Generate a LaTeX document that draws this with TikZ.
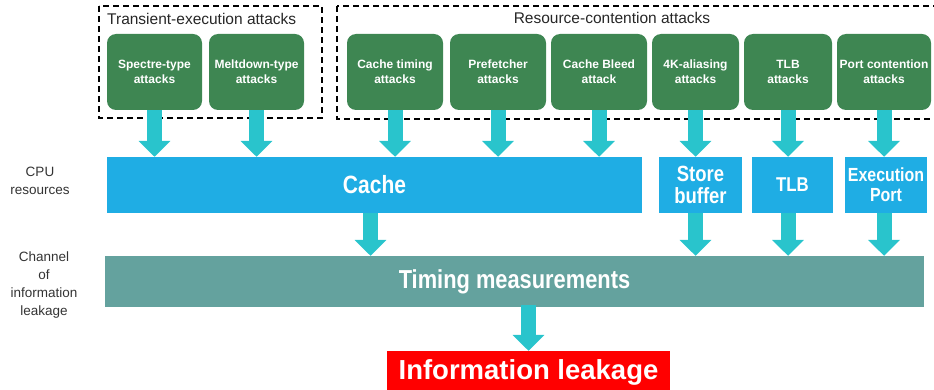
\documentclass[tikz,border=0pt]{standalone}
\usepackage{fontspec}
\setmainfont{Liberation Sans}
\newfontfamily\narrowfont[FakeStretch=0.84]{Liberation Sans}
\usetikzlibrary{arrows.meta}

\definecolor{attackgreen}{RGB}{62,134,82}
\definecolor{cpublue}{RGB}{31,173,228}
\definecolor{channelteal}{RGB}{100,162,158}
\definecolor{flowcyan}{RGB}{41,196,204}

\begin{document}
\begin{tikzpicture}[x=1pt,y=-1pt,
    attack/.style={fill=attackgreen, rounded corners=9pt, text=white, align=center,
      font=\bfseries\fontsize{12}{15}\selectfont, inner sep=0pt,
      minimum width=#1, minimum height=76pt},
    resource/.style={fill=cpublue, text=white, align=center, inner sep=0pt,
      minimum width=#1, minimum height=56pt},
    flow/.style={draw=flowcyan, line width=15pt, -{Triangle[width=31pt,length=16pt]}},
    groupbox/.style={draw=black, line width=1.3pt, dash pattern=on 6pt off 4pt},
    grouplabel/.style={font=\fontsize{15.5}{18}\selectfont, text=black!85, inner sep=0pt},
    sidelabel/.style={font=\fontsize{13.5}{18}\selectfont, text=black!80, align=center, inner sep=0pt}]
  \useasboundingbox (0,0) rectangle (934,390);

  % attack groups
  \draw[groupbox] (99,6) rectangle (322,118);
  \draw[groupbox] (337,6) rectangle (945,119);
  \node[grouplabel, anchor=west] (transient) at (107,19) {Transient-execution attacks};
  \node[grouplabel] (contention) at (612,18) {Resource-contention attacks};

  % attacks
  \node[attack=95pt] (spectre)   at (154.5,72) {Spectre-type\\attacks};
  \node[attack=95pt] (meltdown)  at (256.5,72) {Meltdown-type\\attacks};
  \node[attack=96pt] (timingatk) at (395,72)   {Cache timing\\attacks};
  \node[attack=96pt] (prefetch)  at (498,72)   {Prefetcher\\attacks};
  \node[attack=96pt] (bleed)     at (599,72)   {Cache Bleed\\attack};
  \node[attack=87pt] (aliasing)  at (695.5,72) {4K-aliasing\\attacks};
  \node[attack=88pt] (tlbatk)    at (788,72)   {TLB\\attacks};
  \node[attack=94pt] (portatk)   at (884,72)   {Port contention\\attacks};

  % cpu resources
  \node[resource=535pt, font=\narrowfont\bfseries\fontsize{25}{22}\selectfont] (cache) at (374.5,185) {Cache};
  \node[resource=83pt, font=\narrowfont\bfseries\fontsize{22}{22}\selectfont] (store) at (700.5,185) {Store\\buffer};
  \node[resource=81pt, font=\narrowfont\bfseries\fontsize{20}{20}\selectfont] (tlb) at (792.5,185) {TLB};
  \node[resource=82pt, font=\narrowfont\bfseries\fontsize{19}{20}\selectfont] (exec) at (886,185) {Execution\\Port};

  % channel and result
  \node[fill=channelteal, text=white, font=\narrowfont\bfseries\fontsize{26}{26}\selectfont,
    minimum width=819pt, minimum height=51pt, inner sep=0pt] (timing) at (514.5,281.5) {Timing measurements};
  \node[fill=red, text=white, font=\bfseries\fontsize{27.5}{28}\selectfont,
    minimum width=283pt, minimum height=42pt, inner sep=0pt] (info) at (528.5,372) {Information leakage};

  % row labels
  \node[sidelabel] (cpulbl) at (40,181) {CPU\\resources};
  \node[sidelabel] (chanlbl) at (44,285) {Channel\\of\\information\\leakage};

  % arrows
  \foreach \a/\r in {spectre/cache, meltdown/cache, timingatk/cache, prefetch/cache,
      bleed/cache, aliasing/store, tlbatk/tlb, portatk/exec}
    \draw[flow] (\a.south) -- (\a.south |- \r.north);
  \draw[flow] ([xshift=-4pt]cache.south) -- ([xshift=-4pt]cache.south |- timing.north);
  \foreach \r/\a in {store/aliasing, tlb/tlbatk, exec/portatk}
    \draw[flow] (\a.south |- \r.south) -- (\a.south |- timing.north);
  \draw[flow] ([yshift=2pt]info.north |- timing.south) -- (info.north);
\end{tikzpicture}
\end{document}
